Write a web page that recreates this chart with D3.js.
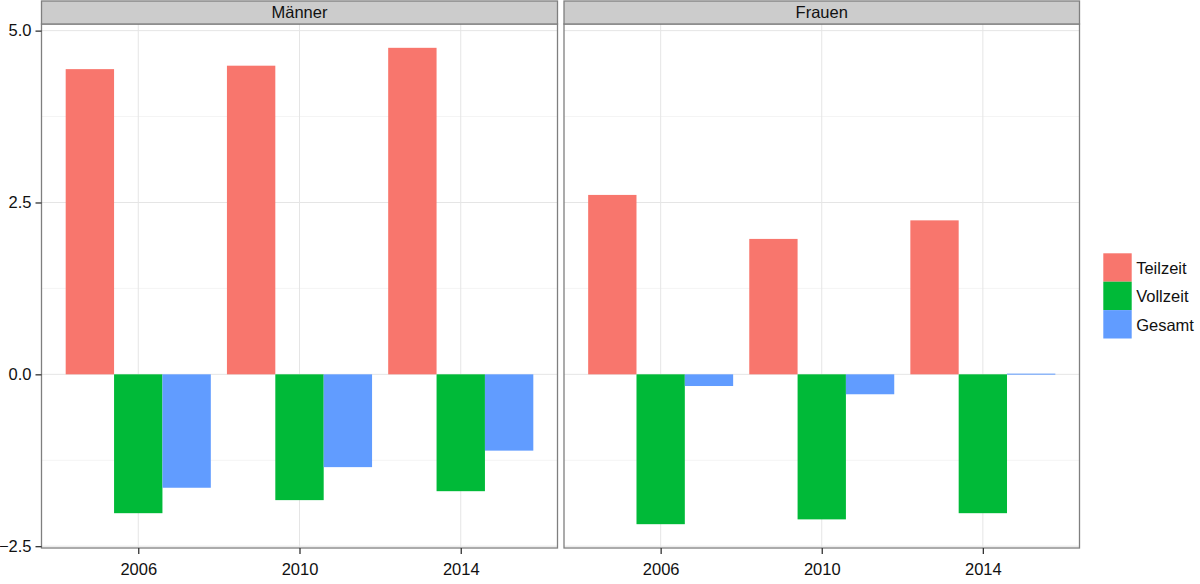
<!DOCTYPE html>
<html>
<head>
<meta charset="utf-8">
<script src="https://cdn.jsdelivr.net/npm/d3@7"></script>
<style>
  html, body { margin: 0; padding: 0; background: #fff; }
  svg { display: block; font-family: "Liberation Sans", Arial, sans-serif; }
</style>
</head>
<body>
<div id="chart"></div>
<script>
// ---- Data ----
const years = ["2006", "2010", "2014"];
const seriesNames = ["Teilzeit", "Vollzeit", "Gesamt"];
const seriesColors = ["#F8766D", "#00BA38", "#619CFF"];
const panels = ["Männer", "Frauen"];
const maennerTeilzeit = [4.44, 4.49, 4.75];
const maennerVollzeit = [-2.02, -1.83, -1.70];
const maennerGesamt = [-1.65, -1.35, -1.11];
const frauenTeilzeit = [2.61, 1.97, 2.24];
const frauenVollzeit = [-2.18, -2.11, -2.02];
const frauenGesamt = [-0.17, -0.29, 0.01];
const yTicks = [-2.5, 0, 2.5, 5];
const yMinorTicks = [-1.25, 1.25, 3.75];

const panelData = {
  "Männer": [maennerTeilzeit, maennerVollzeit, maennerGesamt],
  "Frauen": [frauenTeilzeit, frauenVollzeit, frauenGesamt]
};

// ---- Layout ----
const W = 1200, H = 584;
const stripTop = 1, panelTop = 24, panelBottom = 548;
const panelX = [[41.5, 557.5], [564, 1079.5]];
const fontSize = 16.5;

const svg = d3.select("#chart").append("svg").attr("width", W).attr("height", H);

// y scale with ggplot-like 5% expansion
const allVals = [].concat(...Object.values(panelData).map(a => [].concat(...a)));
const ext = d3.extent(allVals);
const pad = (ext[1] - ext[0]) * 0.05;
const y = d3.scaleLinear().domain([ext[0] - pad, ext[1] + pad]).range([panelBottom, panelTop]);
const fmt = d3.format(".1f");

panels.forEach((pname, pi) => {
  const [x0, x1] = panelX[pi];
  const x = d3.scalePoint().domain(years).range([x0, x1]).padding(0.6);
  const step = x.step();
  const xs = d3.scaleBand().domain(seriesNames).range([-0.45 * step, 0.45 * step]).padding(0);
  const g = svg.append("g");

  // panel background
  g.append("rect").attr("x", x0).attr("y", panelTop).attr("width", x1 - x0).attr("height", panelBottom - panelTop).attr("fill", "#fff");

  // minor grid
  g.selectAll(".ymin").data(yMinorTicks).enter().append("line")
    .attr("x1", x0).attr("x2", x1).attr("y1", d => y(d)).attr("y2", d => y(d))
    .attr("stroke", "#f4f4f4").attr("stroke-width", 1);
  // major grid
  g.selectAll(".ymaj").data(yTicks).enter().append("line")
    .attr("x1", x0).attr("x2", x1).attr("y1", d => y(d)).attr("y2", d => y(d))
    .attr("stroke", "#e5e5e5").attr("stroke-width", 1);
  g.selectAll(".xmaj").data(years).enter().append("line")
    .attr("x1", d => x(d)).attr("x2", d => x(d)).attr("y1", panelTop).attr("y2", panelBottom)
    .attr("stroke", "#e5e5e5").attr("stroke-width", 1);

  // bars
  const vals = panelData[pname];
  seriesNames.forEach((s, si) => {
    g.selectAll(".bar" + si).data(years.map((yr, i) => ({ yr, v: vals[si][i] }))).enter().append("rect")
      .attr("x", d => x(d.yr) + xs(s))
      .attr("width", xs.bandwidth())
      .attr("y", d => Math.min(y(d.v), y(0)))
      .attr("height", d => Math.max(Math.abs(y(d.v) - y(0)), 1))
      .attr("fill", seriesColors[si]);
  });

  // panel border
  g.append("rect").attr("x", x0).attr("y", panelTop).attr("width", x1 - x0).attr("height", panelBottom - panelTop)
    .attr("fill", "none").attr("stroke", "#7f7f7f").attr("stroke-width", 1.3);

  // strip
  g.append("rect").attr("x", x0).attr("y", stripTop).attr("width", x1 - x0).attr("height", panelTop - stripTop)
    .attr("fill", "#cccccc").attr("stroke", "#7f7f7f").attr("stroke-width", 1.3);
  g.append("text").attr("x", (x0 + x1) / 2).attr("y", 18.3).attr("text-anchor", "middle")
    .attr("font-size", fontSize).attr("fill", "#111").text(pname);

  // x axis
  const xAxis = d3.axisBottom(x).tickSize(6).tickPadding(5).tickSizeOuter(0);
  const xa = g.append("g").attr("transform", `translate(0,${panelBottom})`).call(xAxis);
  xa.select(".domain").remove();
  xa.selectAll(".tick line").attr("stroke", "#333").attr("stroke-width", 1.3);
  xa.selectAll(".tick text").attr("font-size", fontSize).attr("fill", "#111")
    .attr("font-family", "Liberation Sans, Arial, sans-serif").attr("dy", "0.95em");

  if (pi === 0) {
    const yAxis = d3.axisLeft(y).tickValues(yTicks).tickFormat(fmt).tickSize(6).tickPadding(4).tickSizeOuter(0);
    const ya = g.append("g").attr("transform", `translate(${x0},0)`).call(yAxis);
    ya.select(".domain").remove();
    ya.selectAll(".tick line").attr("stroke", "#333").attr("stroke-width", 1.3);
    ya.selectAll(".tick text").attr("font-size", fontSize).attr("fill", "#111")
      .attr("font-family", "Liberation Sans, Arial, sans-serif");
  }
});

// legend
const keySize = 28.4, legX = 1103.3, legY = 253.3;
const leg = svg.append("g");
seriesNames.forEach((s, i) => {
  leg.append("rect").attr("x", legX).attr("y", legY + i * keySize).attr("width", keySize).attr("height", keySize)
    .attr("fill", seriesColors[i]);
  leg.append("text").attr("x", legX + keySize + 4.5).attr("y", legY + i * keySize + keySize / 2 + 6.5)
    .attr("font-size", fontSize).attr("fill", "#111").text(s);
});
</script>
</body>
</html>
